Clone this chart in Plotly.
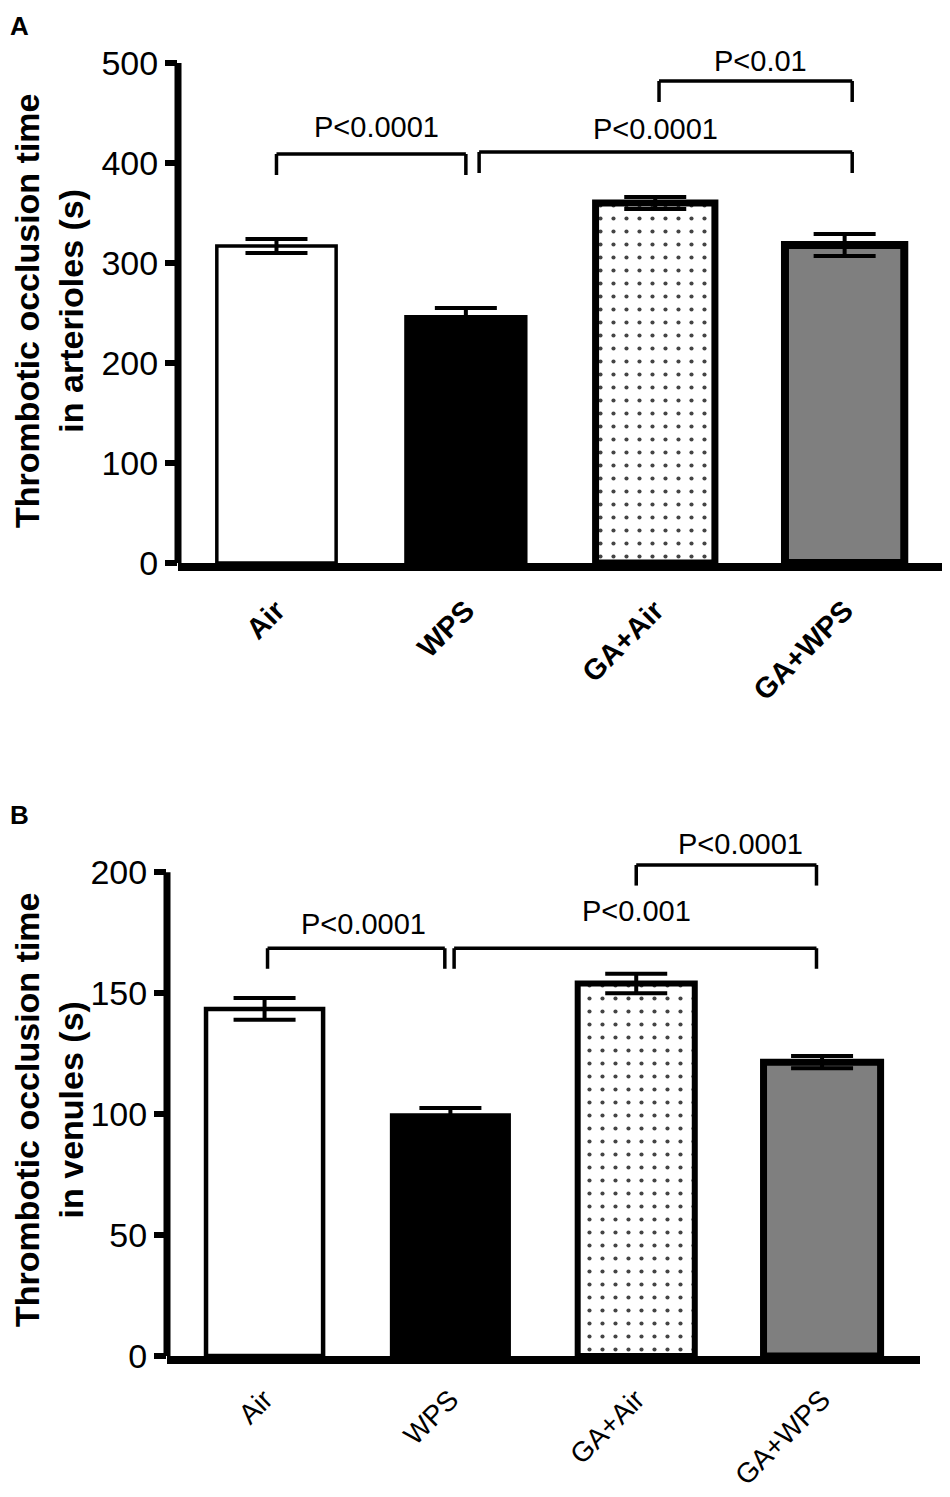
import plotly.graph_objects as go

################################## DATA ########################################
groups = ["Air", "WPS", "GA+Air", "GA+WPS"]

# panel A: arterioles
arteriole_time = [317, 246, 360, 318]
arteriole_sem = [7, 9, 6, 11]
arteriole_ticks = [0, 100, 200, 300, 400, 500]
arteriole_stats = [("Air", "WPS", "P<0.0001"),
                   ("WPS", "GA+WPS", "P<0.0001"),
                   ("GA+Air", "GA+WPS", "P<0.01")]

# panel B: venules
venule_time = [143.5, 99.5, 154, 121.5]
venule_sem = [4.5, 3, 4, 2.5]
venule_ticks = [0, 50, 100, 150, 200]
venule_stats = [("Air", "WPS", "P<0.0001"),
                ("WPS", "GA+WPS", "P<0.001"),
                ("GA+Air", "GA+WPS", "P<0.0001")]

################################# STYLING ######################################
PAGE = 8                      # default body margin of the html page
W, H = 950 - PAGE, 1497 - PAGE
fills = ["white", "black", "white", "#7f7f7f"]
patterns = ["", "", ".", ""]
num_font = "Liberation Sans, Arial, sans-serif"


def px_x(p):
    return (p - PAGE) / W


def px_y(p):
    return 1 - (p - PAGE) / H


'''
Draw one bar panel with its error bars, significance brackets and labels.
'''
def add_panel(fig, n, values, errors, ticks, top, cfg):
    xa, ya = "x" if n == 1 else "x%d" % n, "y" if n == 1 else "y%d" % n
    fig.add_trace(go.Bar(
        x=groups, y=values, xaxis=xa, yaxis=ya, width=cfg["bar_w"],
        marker=dict(color=fills,
                    line=dict(color="black", width=cfg["outline"]),
                    pattern=dict(shape=patterns, fillmode="overlay",
                                 fgcolor="#333333", fgopacity=1,
                                 size=13, solidity=0.08)),
        error_y=dict(type="data", array=errors, color="black",
                     thickness=4, width=31),
        showlegend=False, hoverinfo="skip"))

    x_left, x_right, y_bot, y_top = cfg["box"]
    fig.layout["xaxis" if n == 1 else "xaxis%d" % n] = dict(
        domain=[px_x(x_left), px_x(x_right)], anchor=ya, type="category",
        range=cfg["xrange"], showline=True, linewidth=8, linecolor="black",
        ticks="outside", ticklen=cfg["xtick_pad"], tickcolor="rgba(0,0,0,0)",
        tickangle=-45, showgrid=False, zeroline=False, automargin=False,
        tickfont=dict(family=num_font, size=cfg["xfont"], color="black",
                      weight=cfg["xweight"]))
    fig.layout["yaxis" if n == 1 else "yaxis%d" % n] = dict(
        domain=[px_y(y_bot), px_y(y_top)], anchor=xa, range=[0, top],
        tickvals=ticks, ticks="outside", ticklen=12, tickwidth=6,
        tickcolor="black", showline=False, showgrid=False, zeroline=False,
        automargin=False,
        tickfont=dict(family=num_font, size=34, color="black"))

    # y axis line only up to the last tick
    fig.add_shape(type="line", xref=xa + " domain", yref=ya, x0=0, x1=0,
                  y0=0, y1=ticks[-1], line=dict(color="black", width=7))

    # significance brackets
    for (g0, g1, label), (o0, o1), h, lx, ly in zip(
            cfg["stats"], cfg["ends"], cfg["heights"], cfg["label_x"], cfg["label_y"]):
        a, b = groups.index(g0) + o0, groups.index(g1) + o1
        leg = h - cfg["drop"]
        for x0, y0, x1, y1 in [(a, leg, a, h), (a, h, b, h), (b, h, b, leg)]:
            fig.add_shape(type="line", xref=xa, yref=ya, x0=x0, y0=y0,
                          x1=x1, y1=y1, line=dict(color="black", width=3.5))
        fig.add_annotation(xref=xa, yref=ya, x=lx, y=ly, text=label,
                           showarrow=False, xanchor="center", yanchor="middle",
                           font=dict(family=num_font, size=29, color="black"))

    # rotated two line axis title
    fig.add_annotation(xref="paper", yref="paper", x=px_x(49),
                       y=px_y(cfg["title_y"]), text=cfg["title"],
                       textangle=-90, showarrow=False, xanchor="center",
                       yanchor="middle", borderpad=0,
                       font=dict(family=num_font, size=34, color="black",
                                 weight="bold"))
    fig.add_annotation(xref="paper", yref="paper", x=px_x(9),
                       y=px_y(cfg["letter_y"]), text="<b>%s</b>" % cfg["letter"],
                       showarrow=False, xanchor="left", yanchor="middle",
                       borderpad=0,
                       font=dict(family=num_font, size=26, color="black"))


################################## FIGURE ######################################
fig = go.Figure()

panel_a = dict(
    box=(178, 945, 563, 43), xrange=[-0.52, 3.53], bar_w=0.63,
    outline=[3.5, 4, 7, 8], xtick_pad=11, xfont=29, xweight="bold",
    stats=arteriole_stats, ends=[(0, 0), (0.07, 0.04), (0.02, 0.04)],
    heights=[409, 411, 482], drop=21,
    label_x=[0.53, 2.0, 2.555], label_y=[436, 434, 502],
    title="Thrombotic occlusion time<br>in arterioles (s)", title_y=311,
    letter="A", letter_y=26)

panel_b = dict(
    box=(167, 920, 1356, 836), xrange=[-0.525, 3.527], bar_w=0.63,
    outline=[4.5, 4, 6, 7], xtick_pad=8, xfont=28, xweight="normal",
    stats=venule_stats, ends=[(0.016, -0.03), (0.02, -0.03), (0, -0.03)],
    heights=[168.6, 168.6, 203], drop=8.5,
    label_x=[0.53, 2.0, 2.56], label_y=[178.7, 184, 211.6],
    title="Thrombotic occlusion time<br>in venules (s)", title_y=1110,
    letter="B", letter_y=815)

add_panel(fig, 1, arteriole_time, arteriole_sem, arteriole_ticks, 520, panel_a)
add_panel(fig, 2, venule_time, venule_sem, venule_ticks, 215, panel_b)

fig.update_layout(template="none", width=W, height=H,
                  margin=dict(l=0, r=0, t=0, b=0, autoexpand=False),
                  paper_bgcolor="white", plot_bgcolor="rgba(0,0,0,0)",
                  showlegend=False)

fig.write_html("out.html")
